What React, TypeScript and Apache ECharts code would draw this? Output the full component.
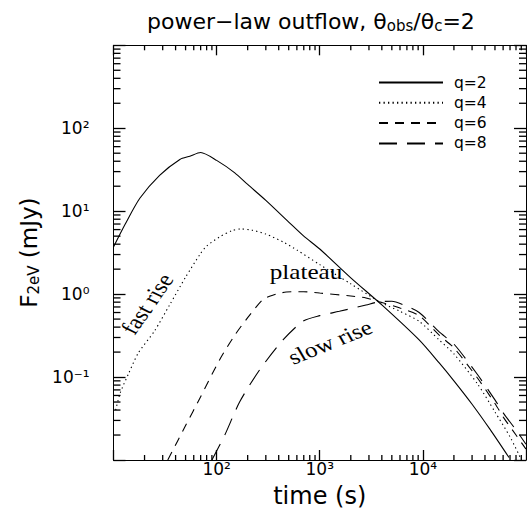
import React, { useEffect, useRef } from "react";
import * as echarts from "echarts";

// ---- data ----
const q2Time = [10, 13, 18, 28, 44, 55, 70, 100, 150, 200, 300, 500, 700, 1000, 2000, 4000, 9200, 14400, 20000, 30000, 45000, 68400];
const q2Flux = [3.7, 7.0, 14.3, 27, 42, 46, 51, 41, 29, 21, 13.5, 7.4, 5.0, 3.5, 1.57, 0.74, 0.28, 0.148, 0.09, 0.047, 0.0232, 0.0107];

const q4Time = [10.5, 11.6, 14, 17.4, 25, 35, 50, 70, 80, 107, 140, 170, 220, 300, 450, 600, 1000, 2000, 3800, 6000, 9200, 14400, 20000, 34000, 50000, 70000, 88700];
const q4Flux = [0.04, 0.064, 0.11, 0.195, 0.36, 0.74, 1.6, 3.1, 3.8, 4.9, 5.8, 6.1, 5.9, 5.3, 4.2, 3.4, 2.27, 1.33, 0.81, 0.62, 0.47, 0.28, 0.19, 0.082, 0.038, 0.019, 0.0105];

const q6Time = [33.6, 50, 70, 107, 150, 200, 281, 350, 473, 700, 1000, 2000, 2810, 3780, 6000, 9200, 14400, 20000, 33700, 50000, 61100, 80000, 100000];
const q6Flux = [0.01, 0.026, 0.058, 0.162, 0.32, 0.52, 0.86, 0.97, 1.06, 1.07, 1.03, 0.95, 0.9, 0.81, 0.68, 0.55, 0.32, 0.225, 0.098, 0.048, 0.032, 0.02, 0.0135];

const q8Time = [90, 120, 167, 261, 440, 686, 1000, 1550, 2810, 3780, 5000, 6500, 9200, 14400, 20000, 33700, 50000, 61100, 80000, 100000];
const q8Flux = [0.01, 0.02, 0.05, 0.122, 0.28, 0.47, 0.55, 0.62, 0.74, 0.81, 0.82, 0.74, 0.6, 0.35, 0.25, 0.108, 0.053, 0.036, 0.023, 0.0155];

const seriesNames = ["q=2", "q=4", "q=6", "q=8"];

const xTickLabelValues = [100, 1000, 10000];
const yTickLabelValues = [0.1, 1, 10, 100];

const X_MIN = 10;
const X_MAX = 100000;
const Y_MIN = 0.01;
const Y_MAX = 1000;

const FONT_SANS = '"DejaVu Sans", sans-serif';
const FONT_SERIF = '"Liberation Serif", "Times New Roman", serif';

const SUP: Record<string, string> = {
  "0": "\u2070", "1": "\u00B9", "2": "\u00B2", "3": "\u00B3", "4": "\u2074",
  "5": "\u2075", "6": "\u2076", "7": "\u2077", "8": "\u2078", "9": "\u2079", "-": "\u207B",
};

function minorTickValues(min: number, max: number): number[] {
  const out: number[] = [];
  for (let d = min; d < max * 0.999; d *= 10) {
    for (let k = 2; k <= 9; k++) out.push(Number((d * k).toPrecision(6)));
  }
  return out;
}

function hasValue(list: number[], v: number) {
  return list.some((x) => Math.abs(Math.log10(x) - Math.log10(v)) < 1e-6);
}

function powLabel(v: number) {
  const e = Math.round(Math.log10(v));
  return "10" + String(e).split("").map((c) => SUP[c] || c).join("");
}

function zip(t: number[], f: number[]) {
  return t.map((x, i) => [x, f[i]]);
}

const TICK_COLOR = "#000";
const TICK_WIDTH = 1.3;

export default function App() {
  const ref = useRef<HTMLDivElement>(null);

  useEffect(() => {
    if (!ref.current) return;
    const chart = echarts.init(ref.current, undefined, { renderer: "svg" });

    const lineTypes: any[] = ["solid", [1.3, 3.2], [9, 7], [18, 10]];
    const datasets = [zip(q2Time, q2Flux), zip(q4Time, q4Flux), zip(q6Time, q6Flux), zip(q8Time, q8Flux)];

    const lineSeries = datasets.map((d, i) => ({
      name: seriesNames[i],
      type: "line",
      data: d,
      symbol: "none",
      showSymbol: false,
      smooth: 0.25,
      clip: true,
      lineStyle: { color: "#000", width: 1.1, type: lineTypes[i] },
      itemStyle: { color: "#000" },
      z: 3,
    }));

    const axisLine = { show: true, onZero: false, lineStyle: { color: "#000", width: 1 } };

    const annotation = (text: string, x: number, y: number, rotDeg: number) => ({
      type: "group",
      x,
      y,
      scaleX: 1.2,
      silent: true,
      children: [
        {
          type: "text",
          rotation: (rotDeg * Math.PI) / 180,
          style: {
            text,
            font: `21px ${FONT_SERIF}`,
            fill: "#000",
            align: "center",
            verticalAlign: "middle",
            textAlign: "center",
            textVerticalAlign: "middle",
          },
        },
      ],
    });

    const annotations = [
      annotation("fast rise", 147, 304, 59.7),
      annotation("plateau", 306, 272, 0),
      annotation("slow rise", 330, 342, 25.9),
    ];

    const majorTick = (len: number) => ({
      show: true,
      inside: true,
      length: len,
      lineStyle: { color: TICK_COLOR, width: TICK_WIDTH },
    });

    chart.setOption({
      animation: false,
      backgroundColor: "#fff",
      title: {
        text: "power\u2212law outflow, \u03B8{sub|obs}/\u03B8{sub|c}=2",
        left: 147,
        top: 9,
        padding: 0,
        textStyle: {
          fontFamily: FONT_SANS,
          fontSize: 22,
          fontWeight: "normal",
          color: "#000",
          rich: {
            sub: { fontFamily: FONT_SANS, fontSize: 15, color: "#000", padding: [9, 0, 0, 0] },
          },
        },
      },
      legend: {
        show: true,
        data: seriesNames,
        orient: "vertical",
        left: 378,
        top: 74.5,
        padding: 0,
        itemWidth: 64,
        itemHeight: 14,
        itemGap: 4.3,
        selectedMode: false,
        itemStyle: { opacity: 0 },
        textStyle: { fontFamily: FONT_SANS, fontSize: 15.5, color: "#000", padding: [0, 0, 0, 6] },
      },
      grid: { left: 113.5, right: 1, top: 45.3, bottom: 50, containLabel: false, outerBoundsMode: "none" },
      xAxis: [
        {
          type: "log",
          logBase: 10,
          min: X_MIN,
          max: X_MAX,
          position: "bottom",
          axisLine,
          axisTick: majorTick(10),
          splitLine: { show: false },
          axisLabel: {
            show: true,
            margin: 0,
            color: "#000",
            fontFamily: FONT_SANS,
            fontSize: 17,
            formatter: (v: number) => (hasValue(xTickLabelValues, v) ? powLabel(v) : ""),
          },
          name: "time (s)",
          nameLocation: "middle",
          nameGap: 24,
          nameTextStyle: { fontFamily: FONT_SANS, fontSize: 24, color: "#000" },
        },
        {
          type: "log",
          logBase: 10,
          min: X_MIN,
          max: X_MAX,
          position: "top",
          axisLine,
          axisTick: majorTick(10),
          splitLine: { show: false },
          axisLabel: { show: false },
        },
      ],
      yAxis: [
        {
          type: "log",
          logBase: 10,
          min: Y_MIN,
          max: Y_MAX,
          position: "left",
          axisLine,
          axisTick: majorTick(12),
          splitLine: { show: false },
          axisLabel: {
            show: true,
            margin: 0,
            color: "#000",
            fontFamily: FONT_SANS,
            fontSize: 17,
            padding: [10, 24, 0, 0],
            formatter: (v: number) => (hasValue(yTickLabelValues, v) ? powLabel(v) : ""),
          },
          name: "F{sub|2eV} (mJy)",
          nameLocation: "middle",
          nameRotate: 90,
          nameGap: 70,
          nameTextStyle: {
            fontFamily: FONT_SANS,
            fontSize: 23,
            color: "#000",
            rich: {
              sub: { fontFamily: FONT_SANS, fontSize: 15, color: "#000", padding: [10, 0, 0, 0] },
            },
          },
        },
        {
          type: "log",
          logBase: 10,
          min: Y_MIN,
          max: Y_MAX,
          position: "right",
          axisLine,
          axisTick: majorTick(12),
          splitLine: { show: false },
          axisLabel: { show: false },
        },
      ],
      series: lineSeries,
      graphic: annotations,
    } as any);

    // Minor tick marks (2..9 × 10^n) on all four sides, positioned through the chart's own log axes.
    const px = (finder: any, v: number): number => {
      const r: any = chart.convertToPixel(finder, v as any);
      return Array.isArray(r) ? r[0] : r;
    };
    const tickLine = (x1: number, y1: number, x2: number, y2: number) => ({
      type: "line",
      silent: true,
      z: 100,
      shape: { x1, y1, x2, y2 },
      style: { stroke: TICK_COLOR, lineWidth: TICK_WIDTH, fill: "none" },
    });
    const ticks: any[] = [];
    const yBottom = px({ yAxisIndex: 0 }, Y_MIN);
    const yTop = px({ yAxisIndex: 0 }, Y_MAX);
    const xLeft = px({ xAxisIndex: 0 }, X_MIN);
    const xRight = px({ xAxisIndex: 0 }, X_MAX);
    minorTickValues(X_MIN, X_MAX).forEach((v) => {
      const x = px({ xAxisIndex: 0 }, v);
      ticks.push(tickLine(x, yBottom, x, yBottom - 5));
      ticks.push(tickLine(x, yTop, x, yTop + 5));
    });
    minorTickValues(Y_MIN, Y_MAX).forEach((v) => {
      const y = px({ yAxisIndex: 0 }, v);
      ticks.push(tickLine(xLeft, y, xLeft + 7, y));
      ticks.push(tickLine(xRight, y, xRight - 7, y));
    });

    chart.setOption({ graphic: [...annotations, ...ticks] } as any);

    return () => chart.dispose();
  }, []);

  return (
    <div
      ref={ref}
      style={{ position: "fixed", left: 0, top: 0, width: 527, height: 510, background: "#fff" }}
    />
  );
}
